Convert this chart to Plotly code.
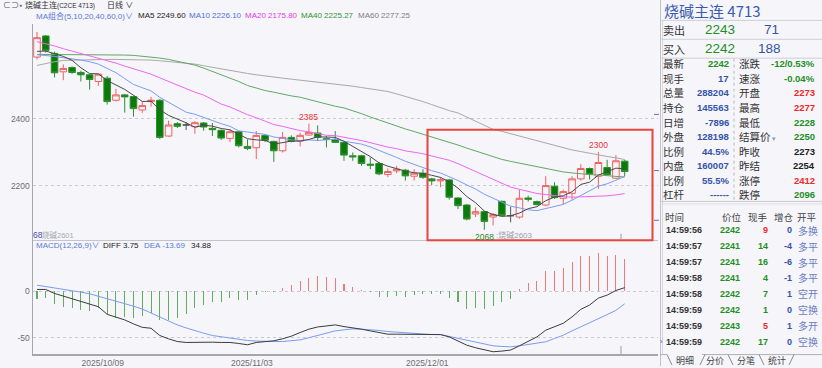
import plotly.graph_objects as go

W, H = 822, 368
BG = "#f5f5fa"
NUM_FONT = "Liberation Sans, Arial, Noto Sans CJK SC, sans-serif"
CJK_FONT = "Noto Sans CJK SC, Liberation Sans, sans-serif"

# ---------------- data ----------------
opens = [2584, 2647, 2595, 2540, 2553, 2538, 2531, 2511, 2521, 2455,
         2471, 2466, 2426, 2451, 2455, 2348, 2385, 2381, 2376, 2387,
         2371, 2365, 2341, 2361, 2317, 2313, 2350, 2332, 2304, 2344,
         2333, 2351, 2357, 2340, 2338, 2329, 2289, 2289, 2264, 2266,
         2233, 2244, 2246, 2228, 2237, 2220, 2214, 2217, 2163, 2142,
         2115, 2122, 2106, 2153, 2110, 2106, 2163, 2152, 2142, 2198,
         2162, 2177, 2220, 2251, 2228, 2254, 2222, 2273]
highs = [2659, 2650, 2600, 2562, 2556, 2543, 2533, 2534, 2527, 2489,
         2474, 2469, 2451, 2465, 2458, 2394, 2390, 2390, 2392, 2390,
         2387, 2368, 2368, 2363, 2338, 2363, 2353, 2334, 2360, 2350,
         2358, 2385, 2380, 2348, 2363, 2331, 2299, 2292, 2284, 2271,
         2251, 2259, 2250, 2249, 2249, 2223, 2225, 2220, 2165, 2145,
         2135, 2124, 2118, 2155, 2137, 2188, 2170, 2155, 2228, 2210,
         2188, 2228, 2264, 2254, 2300, 2277, 2291, 2277]
lows = [2577, 2597, 2523, 2515, 2534, 2511, 2487, 2498, 2442, 2451,
        2418, 2406, 2417, 2436, 2339, 2346, 2372, 2366, 2355, 2364,
        2348, 2336, 2330, 2314, 2306, 2279, 2330, 2271, 2299, 2329,
        2317, 2349, 2333, 2314, 2328, 2274, 2274, 2259, 2249, 2231,
        2225, 2237, 2215, 2215, 2220, 2202, 2195, 2158, 2130, 2096,
        2106, 2068, 2081, 2108, 2090, 2101, 2152, 2141, 2138, 2160,
        2145, 2158, 2215, 2218, 2190, 2230, 2220, 2228]
closes = [2642, 2604, 2537, 2550, 2538, 2531, 2517, 2533, 2451, 2471,
          2465, 2430, 2439, 2455, 2344, 2381, 2377, 2381, 2388, 2375,
          2367, 2342, 2361, 2319, 2311, 2350, 2335, 2304, 2344, 2332,
          2350, 2359, 2344, 2338, 2329, 2291, 2286, 2266, 2261, 2235,
          2242, 2249, 2229, 2237, 2225, 2214, 2217, 2165, 2140, 2100,
          2122, 2093, 2113, 2111, 2110, 2162, 2159, 2143, 2200, 2164,
          2182, 2220, 2251, 2234, 2269, 2232, 2274, 2242]

# moving-average values for the candles whose window
# reaches back before the first visible candle
ma5_head = [2601, 2602, 2594, 2586]
ma10_head = [2591, 2589, 2586, 2582, 2579, 2575, 2570, 2563, 2550]
ma20_head = [2630, 2624, 2617, 2609, 2602, 2596, 2589, 2582, 2575, 2566,
             2557, 2549, 2541, 2533, 2522, 2511, 2500, 2489, 2479]
ma40_head = [2592, 2592, 2592, 2591, 2591, 2591, 2591, 2590, 2590, 2590,
             2590, 2589, 2587, 2584, 2581, 2577, 2572, 2567, 2560, 2551,
             2541, 2531, 2522, 2511, 2499, 2491, 2484, 2479, 2473, 2468,
             2464, 2457, 2450, 2443, 2437, 2432, 2424, 2415, 2405]
ma60_head = [2559, 2565, 2570, 2574, 2575, 2576, 2577, 2577, 2577, 2577,
             2577, 2577, 2576, 2575, 2573, 2571, 2569, 2567, 2563, 2558,
             2553, 2548, 2544, 2540, 2535, 2531, 2527, 2524, 2521, 2518,
             2515, 2513, 2510, 2508, 2505, 2501, 2497, 2493, 2489, 2485,
             2481, 2474, 2467, 2459, 2451, 2442, 2432, 2424, 2417, 2405,
             2393, 2380, 2368, 2362, 2355, 2349, 2341, 2336, 2329]

macd_diff = [1.8, 1.8, -2.5, -5.4, -8.6, -11.4, -14.3, -16.8, -25.0, -28.2,
             -31.0, -35.3, -39.0, -40.0, -47.8, -51.4, -54.3, -55.3, -55.0, -54.6,
             -55.0, -55.3, -55.3, -56.4, -57.8, -55.3, -54.3, -53.5, -51.4, -48.5,
             -44.6, -41.0, -38.6, -37.1, -36.4, -38.2, -39.3, -41.0, -42.8, -44.6,
             -46.4, -46.4, -46.6, -46.8, -46.8, -46.8, -46.8, -49.3, -53.9, -58.2,
             -61.0, -63.5, -65.3, -64.6, -63.5, -58.9, -54.0, -49.3, -42.1, -38.6,
             -34.6, -27.8, -19.6, -15.0, -7.5, -4.3, 0.7, 3.75]
macd_dea = [6.4, 5.0, 3.6, 2.2, 0.7, -1.1, -2.9, -5.4, -7.9, -10.5,
            -13.2, -16.2, -19.3, -23.5, -27.8, -32.1, -36.4, -39.6, -42.8, -45.3,
            -47.8, -49.3, -50.7, -52.0, -53.2, -53.8, -54.3, -54.3, -54.3, -53.4,
            -52.5, -50.2, -47.8, -45.3, -42.8, -41.7, -40.7, -41.0, -41.4, -42.4,
            -43.5, -44.2, -45.0, -45.7, -46.4, -46.8, -46.8, -48.9, -51.0, -53.2,
            -55.3, -57.1, -58.9, -59.6, -60.0, -58.9, -57.5, -56.0, -54.6, -51.0,
            -47.5, -42.8, -38.6, -33.9, -29.6, -25.3, -20.7, -13.69]
macd_hist = [-8.6, -7.1, -14.3, -16.8, -18.6, -20.3, -21.4, -18.6, -25.0, -28.6,
             -27.5, -29.3, -26.8, -23.2, -31.0, -31.0, -28.6, -24.3, -18.6, -15.0,
             -12.1, -11.4, -7.9, -9.6, -9.6, -4.3, -0.7, -1.4, 3.6, 6.4,
             10.7, 14.3, 16.1, 15.4, 14.3, 8.2, 4.6, 1.1, -0.7, -6.1,
             -6.8, -5.4, -6.0, -4.1, -3.6, -2.9, -2.9, -7.5, -11.8, -18.9,
             -17.8, -19.6, -16.0, -11.8, -8.9, 2.5, 8.9, 11.4, 21.4, 22.1,
             25.0, 31.0, 37.5, 38.2, 41.0, 38.2, 38.9, 34.88]

date_labels = ["2025/10/09", "2025/11/03", "2025/12/01"]
date_index = [7, 24, 44]

ma_legend = [("MA5 2249.60", "#222222"), ("MA10 2226.10", "#4f72d8"),
             ("MA20 2175.80", "#e23ee2"), ("MA40 2225.27", "#2d962d"),
             ("MA60 2277.25", "#808080")]

info_left_labels = ["最新", "现手", "总量", "持仓", "日增", "外盘", "比例", "内盘", "比例", "杠杆"]
info_left_values = ["2242", "17", "288204", "145563", "-7896", "128198", "44.5%", "160007", "55.5%", "------"]
info_left_kind = ["down", "vol", "vol", "vol", "vol", "vol", "vol", "vol", "vol", "vol"]
info_right_labels = ["涨跌", "速涨", "开盘", "最高", "最低", "结算价", "昨收", "昨结", "涨停", "跌停"]
info_right_values = ["-12/0.53%", "-0.04%", "2273", "2277", "2228", "2250", "2273", "2254", "2412", "2096"]
info_right_kind = ["down", "down", "up", "up", "down", "down", "flat", "flat", "up", "down"]

trade_times = ["14:59:56", "14:59:57", "14:59:57", "14:59:58", "14:59:58", "14:59:59", "14:59:59", "14:59:59"]
trade_prices = [2242, 2241, 2241, 2241, 2242, 2242, 2243, 2242]
trade_vols = [9, 14, 16, 4, 7, 1, 5, 17]
trade_vol_kind = ["up", "down", "down", "down", "down", "down", "up", "down"]
trade_oi = [0, -4, -6, -1, 1, 0, 1, 0]
trade_types = ["多换", "多平", "多平", "多平", "空开", "空换", "多开", "空换"]


def moving_average(head, values, n):
    out = list(head)
    for i in range(len(head), len(values)):
        out.append(sum(values[i - n + 1:i + 1]) / n)
    return out


ma5 = moving_average(ma5_head, closes, 5)
ma10 = moving_average(ma10_head, closes, 10)
ma20 = moving_average(ma20_head, closes, 20)
ma40 = moving_average(ma40_head, closes, 40)
ma60 = moving_average(ma60_head, closes, 60)

# ---------------- figure ----------------
UP = "#f06262"
DOWN_LINE = "#2f8f2f"
DOWN_FILL = "#0a7a0a"
KIND_COLOR = {"up": "#f02828", "down": "#1e8f1e", "flat": "#222222", "vol": "#3553a8"}

x = list(range(len(closes)))
normal = [i for i in x if opens[i] != closes[i]]
doji = [i for i in x if opens[i] == closes[i]]


def pick(seq, idx):
    return [seq[i] for i in idx]


fig = go.Figure()
fig.add_trace(go.Candlestick(
    x=pick(x, normal), open=pick(opens, normal), high=pick(highs, normal),
    low=pick(lows, normal), close=pick(closes, normal),
    increasing=dict(line=dict(color=UP, width=1), fillcolor=BG),
    decreasing=dict(line=dict(color=DOWN_LINE, width=1), fillcolor=DOWN_FILL),
    whiskerwidth=0, hoverinfo="skip", xaxis="x", yaxis="y"))
fig.add_trace(go.Candlestick(
    x=pick(x, doji), open=pick(opens, doji), high=pick(highs, doji),
    low=pick(lows, doji), close=pick(closes, doji),
    increasing=dict(line=dict(color="#555555", width=1), fillcolor="#555555"),
    decreasing=dict(line=dict(color="#555555", width=1), fillcolor="#555555"),
    whiskerwidth=0, hoverinfo="skip", xaxis="x", yaxis="y"))

for series, color in [(ma60, "#a9a9a9"), (ma40, "#62a862"), (ma20, "#f066f0"),
                      (ma10, "#7c9cf2"), (ma5, "#4a4a4a")]:
    fig.add_trace(go.Scatter(x=x, y=series, mode="lines", line=dict(color=color, width=1),
                             hoverinfo="skip", xaxis="x", yaxis="y"))

fig.add_trace(go.Bar(x=x, y=macd_hist, width=0.12,
                     marker=dict(color=["#f07a7a" if v > 0 else "#5fae5f" for v in macd_hist],
                                 line=dict(width=0)),
                     hoverinfo="skip", xaxis="x2", yaxis="y2"))
fig.add_trace(go.Scatter(x=x, y=macd_dea, mode="lines", line=dict(color="#7c9cf2", width=1),
                         hoverinfo="skip", xaxis="x2", yaxis="y2"))
fig.add_trace(go.Scatter(x=x, y=macd_diff, mode="lines", line=dict(color="#3c3c3c", width=1),
                         hoverinfo="skip", xaxis="x2", yaxis="y2"))

XL, XR = 33 / W, 658 / W
XRANGE = [-0.456, 70.8]
AX = "#a6a6ae"
GRID = "#c9c9d2"
tickfont = dict(size=8.5, color="#6e6e6e", family=NUM_FONT)

fig.update_layout(
    width=W, height=H, autosize=False, margin=dict(l=0, r=0, t=0, b=0),
    paper_bgcolor=BG, plot_bgcolor=BG, showlegend=False, hovermode=False,
    boxgap=0.25, boxgroupgap=0.0, bargap=0,
    xaxis=dict(domain=[XL, XR], range=XRANGE, anchor="y", showticklabels=False,
               showgrid=False, zeroline=False, showline=True, linecolor="#c4c4cc",
               linewidth=1, rangeslider=dict(visible=False), fixedrange=True),
    yaxis=dict(domain=[1 - 241 / H, 1 - 24 / H], range=[2038.3, 2683.2], anchor="x",
               tickvals=[2200, 2400], ticks="", showgrid=True, gridcolor=GRID,
               griddash="dot", gridwidth=1, zeroline=False, showline=True,
               linecolor=AX, linewidth=1.5, tickfont=tickfont, fixedrange=True),
    xaxis2=dict(domain=[XL, XR], range=XRANGE, anchor="y2",
                tickvals=[i + 0.5 for i in date_index], ticktext=date_labels, ticks="",
                showgrid=False, zeroline=False, showline=True, linecolor=AX,
                linewidth=1.5, tickfont=tickfont, fixedrange=True),
    yaxis2=dict(domain=[1 - 356 / H, 1 - 241 / H], range=[-67.8, 55.4], anchor="x2",
                tickvals=[-50, 0], ticktext=["-50", "0"], ticks="", showgrid=True,
                gridcolor=GRID, griddash="dot", gridwidth=1, zeroline=False,
                showline=True, linecolor=AX, linewidth=1.5, tickfont=tickfont,
                fixedrange=True),
)

annos = []
shapes = []


def txt(px, py, s, size=10, color="#333333", anchor="left", family=NUM_FONT):
    annos.append(dict(x=px / W, y=1 - py / H, xref="paper", yref="paper", text=s,
                      showarrow=False, xanchor=anchor, yanchor="middle",
                      font=dict(size=size, color=color, family=family), borderpad=0))


def hline(y, x0, x1, color="#cfcfd6", width=1, dash=None):
    shapes.append(dict(type="line", xref="paper", yref="paper", x0=x0 / W, x1=x1 / W,
                       y0=1 - y / H, y1=1 - y / H,
                       line=dict(color=color, width=width, dash=dash)))


def vline(x, y0, y1, color="#cfcfd6", width=1, dash=None):
    shapes.append(dict(type="line", xref="paper", yref="paper", x0=x / W, x1=x / W,
                       y0=1 - y0 / H, y1=1 - y1 / H,
                       line=dict(color=color, width=width, dash=dash)))


# top tool bar
txt(2, 5.5, "⊂⊃", size=8, color="#555555")
txt(18, 5.5, "●", size=5, color="#4a6ad0")
txt(24, 5.5, "烧碱主连<span style='font-size:6.5px'>(C2CE 4713)</span>", size=8, color="#333333")
txt(106, 5.5, "日线 ∨", size=8, color="#333333")

# MA legend
txt(35, 16, "MA组合(5,10,20,40,60,0)∨", size=8, color="#5a7ad8")
for (label, color), px in zip(ma_legend, [137, 188, 244, 300, 357]):
    txt(px, 16, label, size=8, color=color)

# MACD legend
txt(35, 247, "MACD(12,26,9)∨", size=8, color="#5a7ad8")
txt(102, 247, "DIFF 3.75", size=8, color="#222222")
txt(143, 247, "DEA -13.69", size=8, color="#5a7ad8")
txt(190, 247, "34.88", size=8, color="#222222")

# extreme value marks (from data)
hi_i, hi2_i, lo_i = 31, 64, 51
annos.append(dict(x=hi_i, y=highs[hi_i], xref="x", yref="y", text=str(highs[hi_i]),
                  showarrow=False, yanchor="bottom", font=dict(size=8.5, color="#ee3333", family=NUM_FONT)))
annos.append(dict(x=hi2_i, y=highs[hi2_i], xref="x", yref="y", text=str(highs[hi2_i]),
                  showarrow=False, yanchor="bottom", font=dict(size=8.5, color="#ee3333", family=NUM_FONT)))
annos.append(dict(x=lo_i, y=lows[lo_i], xref="x", yref="y", text=str(lows[lo_i]),
                  showarrow=False, yanchor="top", font=dict(size=8.5, color="#2e8b2e", family=NUM_FONT)))
txt(495, 236.5, ":烧碱2603", size=8, color="#a0a0a8")
txt(32, 236, "68", size=8.5, color="#4a4ab0")
txt(41, 236.5, "烧碱2601", size=7.5, color="#a8a8b0")

# red highlight box
shapes.append(dict(type="rect", xref="paper", yref="paper", x0=427.5 / W, x1=652.5 / W,
                   y0=1 - 241.5 / H, y1=1 - 130.5 / H, line=dict(color="#e8453c", width=2)))
# small markers
vline(621, 235, 241, color="#9a9aa2")
vline(621, 348, 356, color="#9a9aa2")
for py in [115, 171.5, 221.5]:
    hline(py, 654, 659, color="#6a6ad6", width=1)

# right panel frame
vline(660.5, 0, 368, color="#c2c2ca")
vline(662.5, 20, 356, color="#d8d8de")
hline(20.5, 660, 822)
hline(39.5, 660, 822)
hline(58.5, 660, 822)
hline(202.5, 660, 822, color="#c8c8d0")
hline(205, 660, 822, color="#dcdce2")
vline(734, 59, 202, color="#b8b8c0", dash="dot")

txt(663, 10.5, "烧碱主连 4713", size=15, color="#3a5bb0", family=CJK_FONT)
txt(662, 30.5, "卖出", size=11, color="#333333", family=CJK_FONT)
txt(704, 30, "2243", size=13.5, color="#1e8f1e")
txt(763, 30, "71", size=13.5, color="#3553a8")
txt(662, 49.5, "买入", size=11, color="#333333", family=CJK_FONT)
txt(704, 49, "2242", size=13.5, color="#1e8f1e")
txt(757, 49, "188", size=13.5, color="#3553a8")

for k in range(len(info_left_labels)):
    py = 64.3 + 14.6 * k
    txt(662, py, info_left_labels[k], size=10.5, color="#333333", family=CJK_FONT)
    txt(730, py, "<b>%s</b>" % info_left_values[k], size=9.5,
        color=KIND_COLOR[info_left_kind[k]], anchor="right")
    label = info_right_labels[k]
    if label == "结算价":
        label += "<span style='font-size:7px;color:#999999'> ▾</span>"
    txt(738, py, label, size=10.5, color="#333333", family=CJK_FONT)
    txt(816, py, "<b>%s</b>" % info_right_values[k], size=9.5,
        color=KIND_COLOR[info_right_kind[k]], anchor="right")

# trade detail table
for label, px, anchor in [("时间", 664, "left"), ("价位", 731.5, "center"),
                          ("现手", 758, "center"), ("增仓", 783.5, "center"),
                          ("开平", 807, "center")]:
    txt(px, 218, label, size=9.5, color="#444444", anchor=anchor, family=CJK_FONT)
for k in range(len(trade_times)):
    py = 231.5 + 16 * k
    txt(665, py, "<b>%s</b>" % trade_times[k], size=9, color="#333333")
    txt(741, py, "<b>%d</b>" % trade_prices[k], size=9, color="#1e8f1e", anchor="right")
    txt(768.5, py, "<b>%d</b>" % trade_vols[k], size=9,
        color=KIND_COLOR[trade_vol_kind[k]], anchor="right")
    txt(793, py, "<b>%d</b>" % trade_oi[k], size=9, color="#3553a8", anchor="right")
    txt(797, py, trade_types[k], size=10, color="#6a7cc0", family=CJK_FONT)
txt(659, 343.5, "›", size=8, color="#5a6ab0")

# tabs
hline(356.5, 660, 667, color="#b0b0b8")
hline(356.5, 702, 822, color="#b0b0b8")
for x0, x1, up in [(667, 672, False), (700, 705, True), (728, 733, False),
                   (759, 764, False), (789, 794, True)]:
    shapes.append(dict(type="line", xref="paper", yref="paper", x0=x0 / W, x1=x1 / W,
                       y0=1 - (367 if up else 356.5) / H, y1=1 - (356.5 if up else 367) / H,
                       line=dict(color="#8a8a92", width=1)))
for label, px in zip(["明细", "分价", "分笔", "统计"], [685, 715, 746, 777]):
    txt(px, 362, label, size=9, color="#444444", anchor="center", family=CJK_FONT)

fig.update_layout(annotations=annos, shapes=shapes)
fig.write_html(
    "out.html",
    config={"displayModeBar": False, "staticPlot": True},
    post_script="document.documentElement.style.margin='0';document.body.style.margin='0';"
                "document.body.style.overflow='hidden';",
)
